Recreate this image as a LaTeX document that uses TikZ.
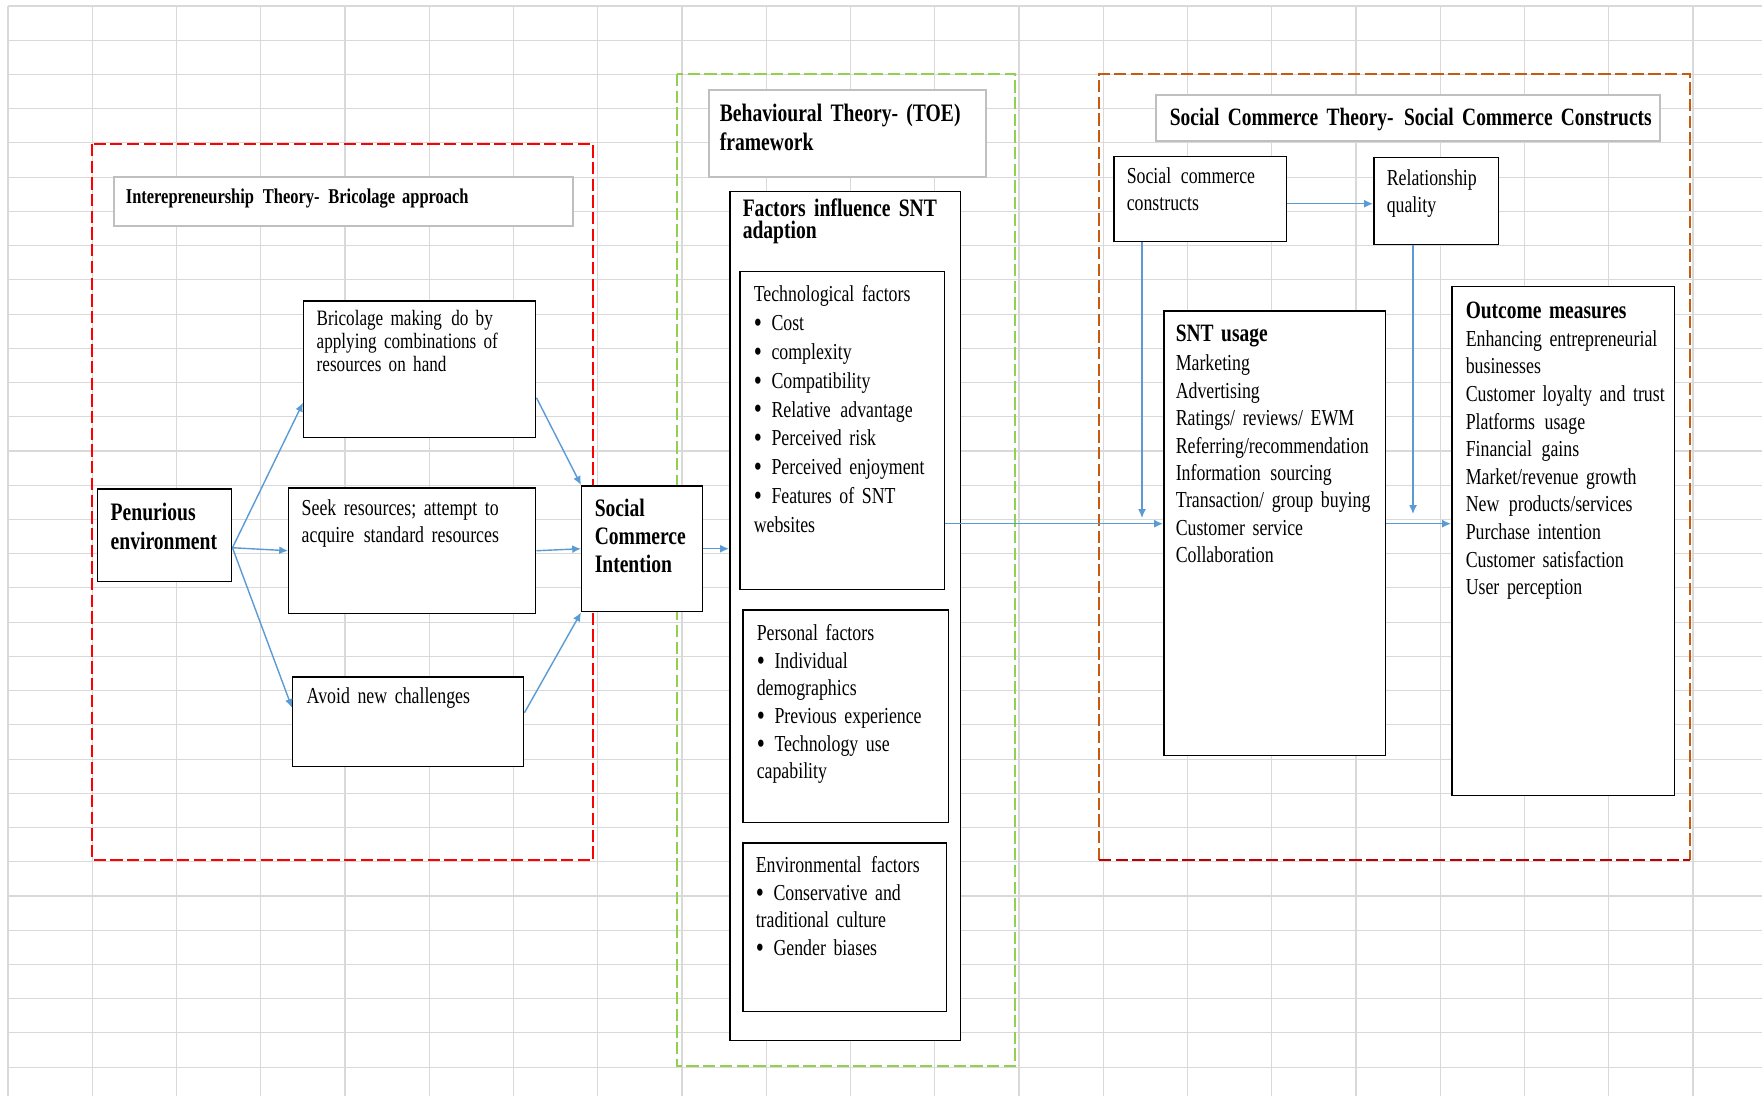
\documentclass[tikz,border=0pt]{standalone}
\usepackage{fontspec}
\setmainfont{Liberation Serif}[FakeStretch=0.78, WordSpace=0.8]
\usepackage{tikz}
\usetikzlibrary{arrows.meta}

\definecolor{gridgray}{HTML}{D9D9D9}
\definecolor{arrowblue}{HTML}{5B9BD5}
\definecolor{framered}{HTML}{FF0000}
\definecolor{framegreen}{HTML}{92D050}
\definecolor{frameorange}{HTML}{C55A11}
\definecolor{framedarkred}{HTML}{C00000}
\definecolor{titlegray}{HTML}{BFBFBF}

\newcommand{\itembul}{\raisebox{-1.1pt}{\scalebox{1.3}{\textbullet}}\hspace{5.5pt}}
\newcommand{\dsp}{\hspace{0.42em}}

\begin{document}
\begin{tikzpicture}[x=0.02cm, y=-0.02cm]
	\tikzset{gridline/.style={draw=gridgray, line width=0.6pt}}
	\tikzset{frame/.style={line width=1.2pt, dash pattern=on 7pt off 2.5pt}}
	\tikzset{box/.style={draw, fill=white, line width=0.85pt, anchor=north west, align=left, inner ysep=0pt}}
	\tikzset{titlebox/.style={box, draw=titlegray, line width=1pt}}
	\tikzset{reg/.style={font=\fontsize{13}{15.7}\selectfont}}
	\tikzset{head/.style={font=\bfseries\fontsize{14.3}{16.2}\selectfont}}
	\tikzset{edge/.style={-{Latex[length=5pt, width=4.5pt]}, draw=arrowblue, line width=0.8pt}}
	\useasboundingbox (0,0) rectangle (1762,1096);
	%grid
	\foreach \r in {0,...,31}
		\draw[gridline] (8,{6+34.23*\r}) -- (1762,{6+34.23*\r});
	\foreach \c in {0,...,20}
		\draw[gridline] ({8+84.25*\c},6) -- ({8+84.25*\c},1096);
	%frames
	\draw[frame, draw=framered, line width=1.5pt] (92,144) rectangle (593,860);
	\draw[frame, draw=framegreen] (677,74) rectangle (1015,1066);
	\draw[frame, draw=frameorange] (1099,860) -- (1099,74) -- (1690,74) -- (1690,860);
	\draw[frame, draw=framedarkred] (1099,860) -- (1690,860);
	%bricolage part
	\node[titlebox, inner xsep=0.24cm, text width=8.70cm, text height=0.54cm, text depth=0.44cm,
		font=\bfseries\fontsize{12}{14}\selectfont] (brictitle) at (113,176)
		{\mbox{Interepreneurship\dsp Theory-\dsp Bricolage approach}};
	\node[box, inner xsep=0.26cm, text width=4.12cm, text height=0.50cm, text depth=2.24cm,
		font=\fontsize{12.5}{13}\selectfont] (bric) at (303,300)
		{Bricolage making\dsp do by\\ applying combinations of\\ resources on hand};
	\node[box, head, inner xsep=0.26cm, text width=2.16cm, text height=0.64cm, text depth=1.22cm,
		font=\bfseries\fontsize{14.3}{16.1}\selectfont] (pen) at (97,488)
		{Penurious\\ environment};
	\node[box, inner xsep=0.26cm, text width=4.42cm, text height=0.56cm, text depth=1.96cm,
		font=\fontsize{13}{15.2}\selectfont] (seek) at (288,487)
		{Seek resources; attempt to\\ acquire\dsp standard resources};
	\node[box, reg, inner xsep=0.28cm, text width=4.06cm, text height=0.54cm, text depth=1.26cm] (avoid) at (292,676)
		{Avoid new challenges};
	\node[box, inner xsep=0.26cm, text width=1.90cm, text height=0.62cm, text depth=1.90cm,
		font=\bfseries\fontsize{14.3}{16}\selectfont] (sci) at (581,485)
		{Social\\ Commerce\\ Intention};
	%TOE part
	\node[titlebox, head, inner xsep=0.22cm, text width=5.10cm, text height=0.64cm, text depth=1.10cm] (toetitle) at (708,89)
		{Behavioural Theory- (TOE)\\ framework};
	\node[box, inner xsep=0.26cm, text width=4.10cm, text height=0.50cm, text depth=16.48cm,
		font=\bfseries\fontsize{14.3}{12.5}\selectfont] (fac) at (729,191)
		{Factors influence SNT\\ adaption};
	\node[box, inner xsep=0.28cm, text width=3.54cm, text height=0.60cm, text depth=5.76cm,
		font=\fontsize{13}{16.4}\selectfont] (tech) at (739,271)
		{Technological factors\\ \itembul Cost\\ \itembul complexity\\ \itembul Compatibility\\
		\itembul Relative\dsp advantage\\ \itembul Perceived risk\\ \itembul Perceived enjoyment\\
		\itembul Features of SNT\\ websites};
	\node[box, reg, inner xsep=0.28cm, text width=3.56cm, text height=0.62cm, text depth=3.64cm] (pers) at (742,609)
		{Personal factors\\ \itembul Individual\\ demographics\\ \itembul Previous experience\\
		\itembul Technology use\\ capability};
	\node[box, reg, inner xsep=0.26cm, text width=3.56cm, text height=0.60cm, text depth=2.78cm] (env) at (742,842)
		{Environmental\dsp factors\\ \itembul Conservative and\\ traditional culture\\ \itembul Gender biases};
	%social commerce part
	\node[titlebox, inner xsep=0.28cm, text width=9.52cm, text height=0.62cm, text depth=0.30cm,
		font=\bfseries\fontsize{14.2}{16}\selectfont] (sctitle) at (1155,94)
		{\mbox{Social Commerce Theory-\dsp Social Commerce Constructs}};
	\node[box, inner xsep=0.26cm, text width=2.94cm, text height=0.54cm, text depth=1.16cm,
		font=\fontsize{13}{15.4}\selectfont] (scc) at (1113,156)
		{Social\dsp commerce\\ constructs};
	\node[box, inner xsep=0.26cm, text width=1.98cm, text height=0.56cm, text depth=1.18cm,
		font=\fontsize{13}{15.4}\selectfont] (rq) at (1373,157)
		{Relationship\\ quality};
	\node[box, inner xsep=0.24cm, text width=3.96cm, text height=0.62cm, text depth=8.28cm,
		font=\fontsize{13}{15.6}\selectfont] (snt) at (1163,310)
		{{\bfseries\fontsize{14.2}{15.6}\selectfont SNT usage}\\[1pt] Marketing\\ Advertising\\ Ratings/ reviews/ EWM\\
		Referring/recommendation\\ Information\dsp sourcing\\ Transaction/ group buying\\
		Customer service\\ Collaboration};
	\node[box, reg, inner xsep=0.28cm, text width=3.90cm, text height=0.64cm, text depth=9.54cm] (out) at (1451,286)
		{{\bfseries\fontsize{14.2}{15.7}\selectfont Outcome measures}\\ Enhancing entrepreneurial\\ businesses\\
		\mbox{Customer loyalty and trust}\\ Platforms\dsp usage\\ Financial\dsp gains\\ Market/revenue growth\\
		New\dsp products/services\\ Purchase intention\\ Customer satisfaction\\ User perception};
	%arrows
	\draw[edge] ([yshift=-0.25cm]pen.east) -- ([yshift=-0.67cm]bric.west);
	\draw[edge] ([yshift=-0.25cm]pen.east) -- (seek.west);
	\draw[edge] ([yshift=-0.25cm]pen.east) -- ([yshift=0.28cm]avoid.west);
	\draw[edge] ([yshift=-0.57cm]bric.east) -- (sci.north west);
	\draw[edge] (seek.east) -- (sci.west);
	\draw[edge] ([yshift=0.18cm]avoid.east) -- (sci.south west);
	\draw[edge] (sci.east) -- (sci.east -| fac.west);
	\coordinate (sntin) at ([yshift=0.19cm]snt.west);
	\draw[edge] (tech.east |- sntin) -- (sntin);
	\coordinate (sccout) at ([yshift=-0.09cm]scc.east);
	\draw[edge] (sccout) -- (sccout -| rq.west);
	\coordinate (drop1) at (1142,518);
	\coordinate (drop2) at (1413,514);
	\draw[edge] (scc.south -| drop1) -- (drop1);
	\draw[edge] (rq.south -| drop2) -- (drop2);
	\draw[edge] (snt.east |- sntin) -- (out.west |- sntin);
\end{tikzpicture}
\end{document}
